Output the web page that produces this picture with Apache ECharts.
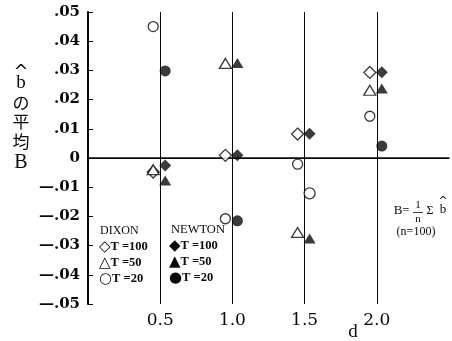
<!DOCTYPE html>
<html><head><meta charset="utf-8">
<script src="https://cdn.jsdelivr.net/npm/echarts@6/dist/echarts.min.js"></script>
<style>html,body{margin:0;padding:0;background:#fff}#c{width:452px;height:341px}</style>
</head><body><div id="c"></div>
<script>
// ---- data ----
const dValues = [0.5, 1.0, 1.5, 2.0];
const xTickLabels = ['0.5', '1.0', '1.5', '2.0'];
const yTickLabels = ['—.05', '—.04', '—.03', '—.02', '—.01', '0', '.01', '.02', '.03', '.04', '.05'];
const dixonT100 = [-0.0048, 0.0009, 0.0082, 0.0293];
const dixonT50  = [-0.0040, 0.0324, -0.0255, 0.0232];
const dixonT20  = [0.0450, -0.0208, -0.0021, 0.0143];
const newtonT100 = [-0.0026, 0.0009, 0.0083, 0.0294];
const newtonT50  = [-0.0077, 0.0325, -0.0276, 0.0238];
const newtonT20  = [0.0298, -0.0215, -0.0121, 0.0041];

const chart = echarts.init(document.getElementById('c'), null, {renderer: 'canvas'});
const serif = '"Liberation Serif", "DejaVu Serif", serif';
const ink = '#0a0a0a';
const openStyle = {color: '#fff', borderColor: ink, borderWidth: 1.3};
const fillStyle = {color: ink};
function pts(vals, override) {
  return dValues.map((d, i) => {
    const item = {value: [d, vals[i]]};
    if (override && override[i]) item.itemStyle = override[i];
    return item;
  });
}
function sc(name, symbol, size, offset, style, vals, override) {
  return {type: 'scatter', name, symbol, symbolSize: size, symbolOffset: offset,
    itemStyle: style, data: pts(vals, override), z: 5, silent: true, animation: false};
}
const OPEN = [-7, 0], FILL = [5, 0];
const series = [
  {type: 'scatter', data: [], silent: true, animation: false,
   markLine: {silent: true, animation: false, symbol: ['none', 'none'],
     label: {show: false}, lineStyle: {color: ink, width: 1, type: 'solid'},
     data: dValues.map(d => ({xAxis: d})).concat([{yAxis: 0}])}},
  sc('DIXON T=100', 'diamond', 12, OPEN, openStyle, dixonT100),
  sc('DIXON T=50', 'triangle', [12, 10], OPEN, openStyle, dixonT50),
  sc('DIXON T=20', 'circle', 10, OPEN, openStyle, dixonT20),
  sc('NEWTON T=100', 'diamond', 12, FILL, fillStyle, newtonT100),
  sc('NEWTON T=50', 'triangle', [12, 10], FILL, fillStyle, newtonT50),
  sc('NEWTON T=20', 'circle', 11, FILL, fillStyle, newtonT20, [null, null, openStyle, null])
];

const txt = (x, y, text, size, extra) => ({type: 'text', x, y,
  style: Object.assign({text, fill: ink, font: size + 'px ' + serif, align: 'center', verticalAlign: 'middle'}, extra || {})});
const cjk = '"Noto Sans CJK JP", sans-serif';

const legendRow = (x, y, sym, label) => ({type: 'text', x, y, style: {
  text: '{s|' + sym + '}{t|' + label + '}', verticalAlign: 'middle', align: 'left',
  rich: {s: {fontFamily: '"DejaVu Sans", sans-serif', fontSize: 15, fill: ink},
         t: {fontFamily: serif, fontSize: 12.5, fontWeight: 'bold', fill: ink}}}});

const graphic = [
  // y-axis title
  txt(21, 72, '^', 18, {font: '18px "DejaVu Sans", sans-serif'}),
  txt(21, 83, 'b', 19),
  {type: 'text', x: 21, y: 103, style: {text: 'の', font: '17px ' + cjk, fill: ink, align: 'center', verticalAlign: 'middle'}},
  {type: 'text', x: 21, y: 122, style: {text: '平', font: '17px ' + cjk, fill: ink, align: 'center', verticalAlign: 'middle'}},
  {type: 'text', x: 21, y: 142, style: {text: '均', font: '17px ' + cjk, fill: ink, align: 'center', verticalAlign: 'middle'}},
  txt(21, 163, 'B', 20),
  // x-axis name
  txt(353, 332, 'd', 19),
  // legends
  {type: 'text', x: 100, y: 231, style: {text: 'DIXON', font: '12px ' + serif, fill: ink, verticalAlign: 'middle'}},
  legendRow(99, 247, '◇', 'T =100'),
  legendRow(99, 263, '△', 'T =50'),
  legendRow(99, 279, '○', 'T =20'),
  {type: 'text', x: 171, y: 230, style: {text: 'NEWTON', font: '12.5px ' + serif, fill: ink, verticalAlign: 'middle'}},
  legendRow(169, 246, '◆', 'T =100'),
  legendRow(169, 262, '▲', 'T =50'),
  legendRow(169, 278, '●', 'T =20'),
  // formula
  txt(398, 211, 'B', 13),
  txt(406, 211, '=', 12),
  txt(418, 205, '1', 11),
  {type: 'line', shape: {x1: 413, y1: 212.5, x2: 423, y2: 212.5}, style: {stroke: ink, lineWidth: 0.8}},
  txt(418, 219, 'n', 11),
  txt(430, 211, 'Σ', 12),
  txt(443, 201, '^', 11, {font: '11px "DejaVu Sans", sans-serif'}),
  txt(443, 210, 'b', 13),
  txt(416, 232, '(n=100)', 12)
];

chart.setOption({
  animation: false,
  backgroundColor: '#fff',
  grid: {left: 88, right: 0, top: 12, bottom: 37, containLabel: false},
  xAxis: {type: 'value', min: 0, max: 2.5, interval: 0.5,
    axisLine: {lineStyle: {color: ink, width: 1.5}}, axisTick: {show: false},
    splitLine: {show: false},
    axisLabel: {margin: 8, fontFamily: '"DejaVu Serif", serif', fontSize: 17, color: ink,
      formatter: v => { const i = dValues.findIndex(d => Math.abs(d - v) < 1e-9); return i >= 0 ? xTickLabels[i] : ''; }}},
  yAxis: {type: 'value', min: -0.05, max: 0.05, interval: 0.01,
    axisLine: {show: true, lineStyle: {color: ink, width: 2}},
    axisTick: {show: true, inside: true, length: 5, lineStyle: {color: ink, width: 1}},
    splitLine: {show: false},
    axisLabel: {margin: 8, fontFamily: '"DejaVu Serif", serif', fontWeight: 'bold', fontSize: 15, color: ink,
      formatter: v => yTickLabels[Math.round((v + 0.05) / 0.01)]}},
  series,
  graphic
});
</script>
</body></html>
